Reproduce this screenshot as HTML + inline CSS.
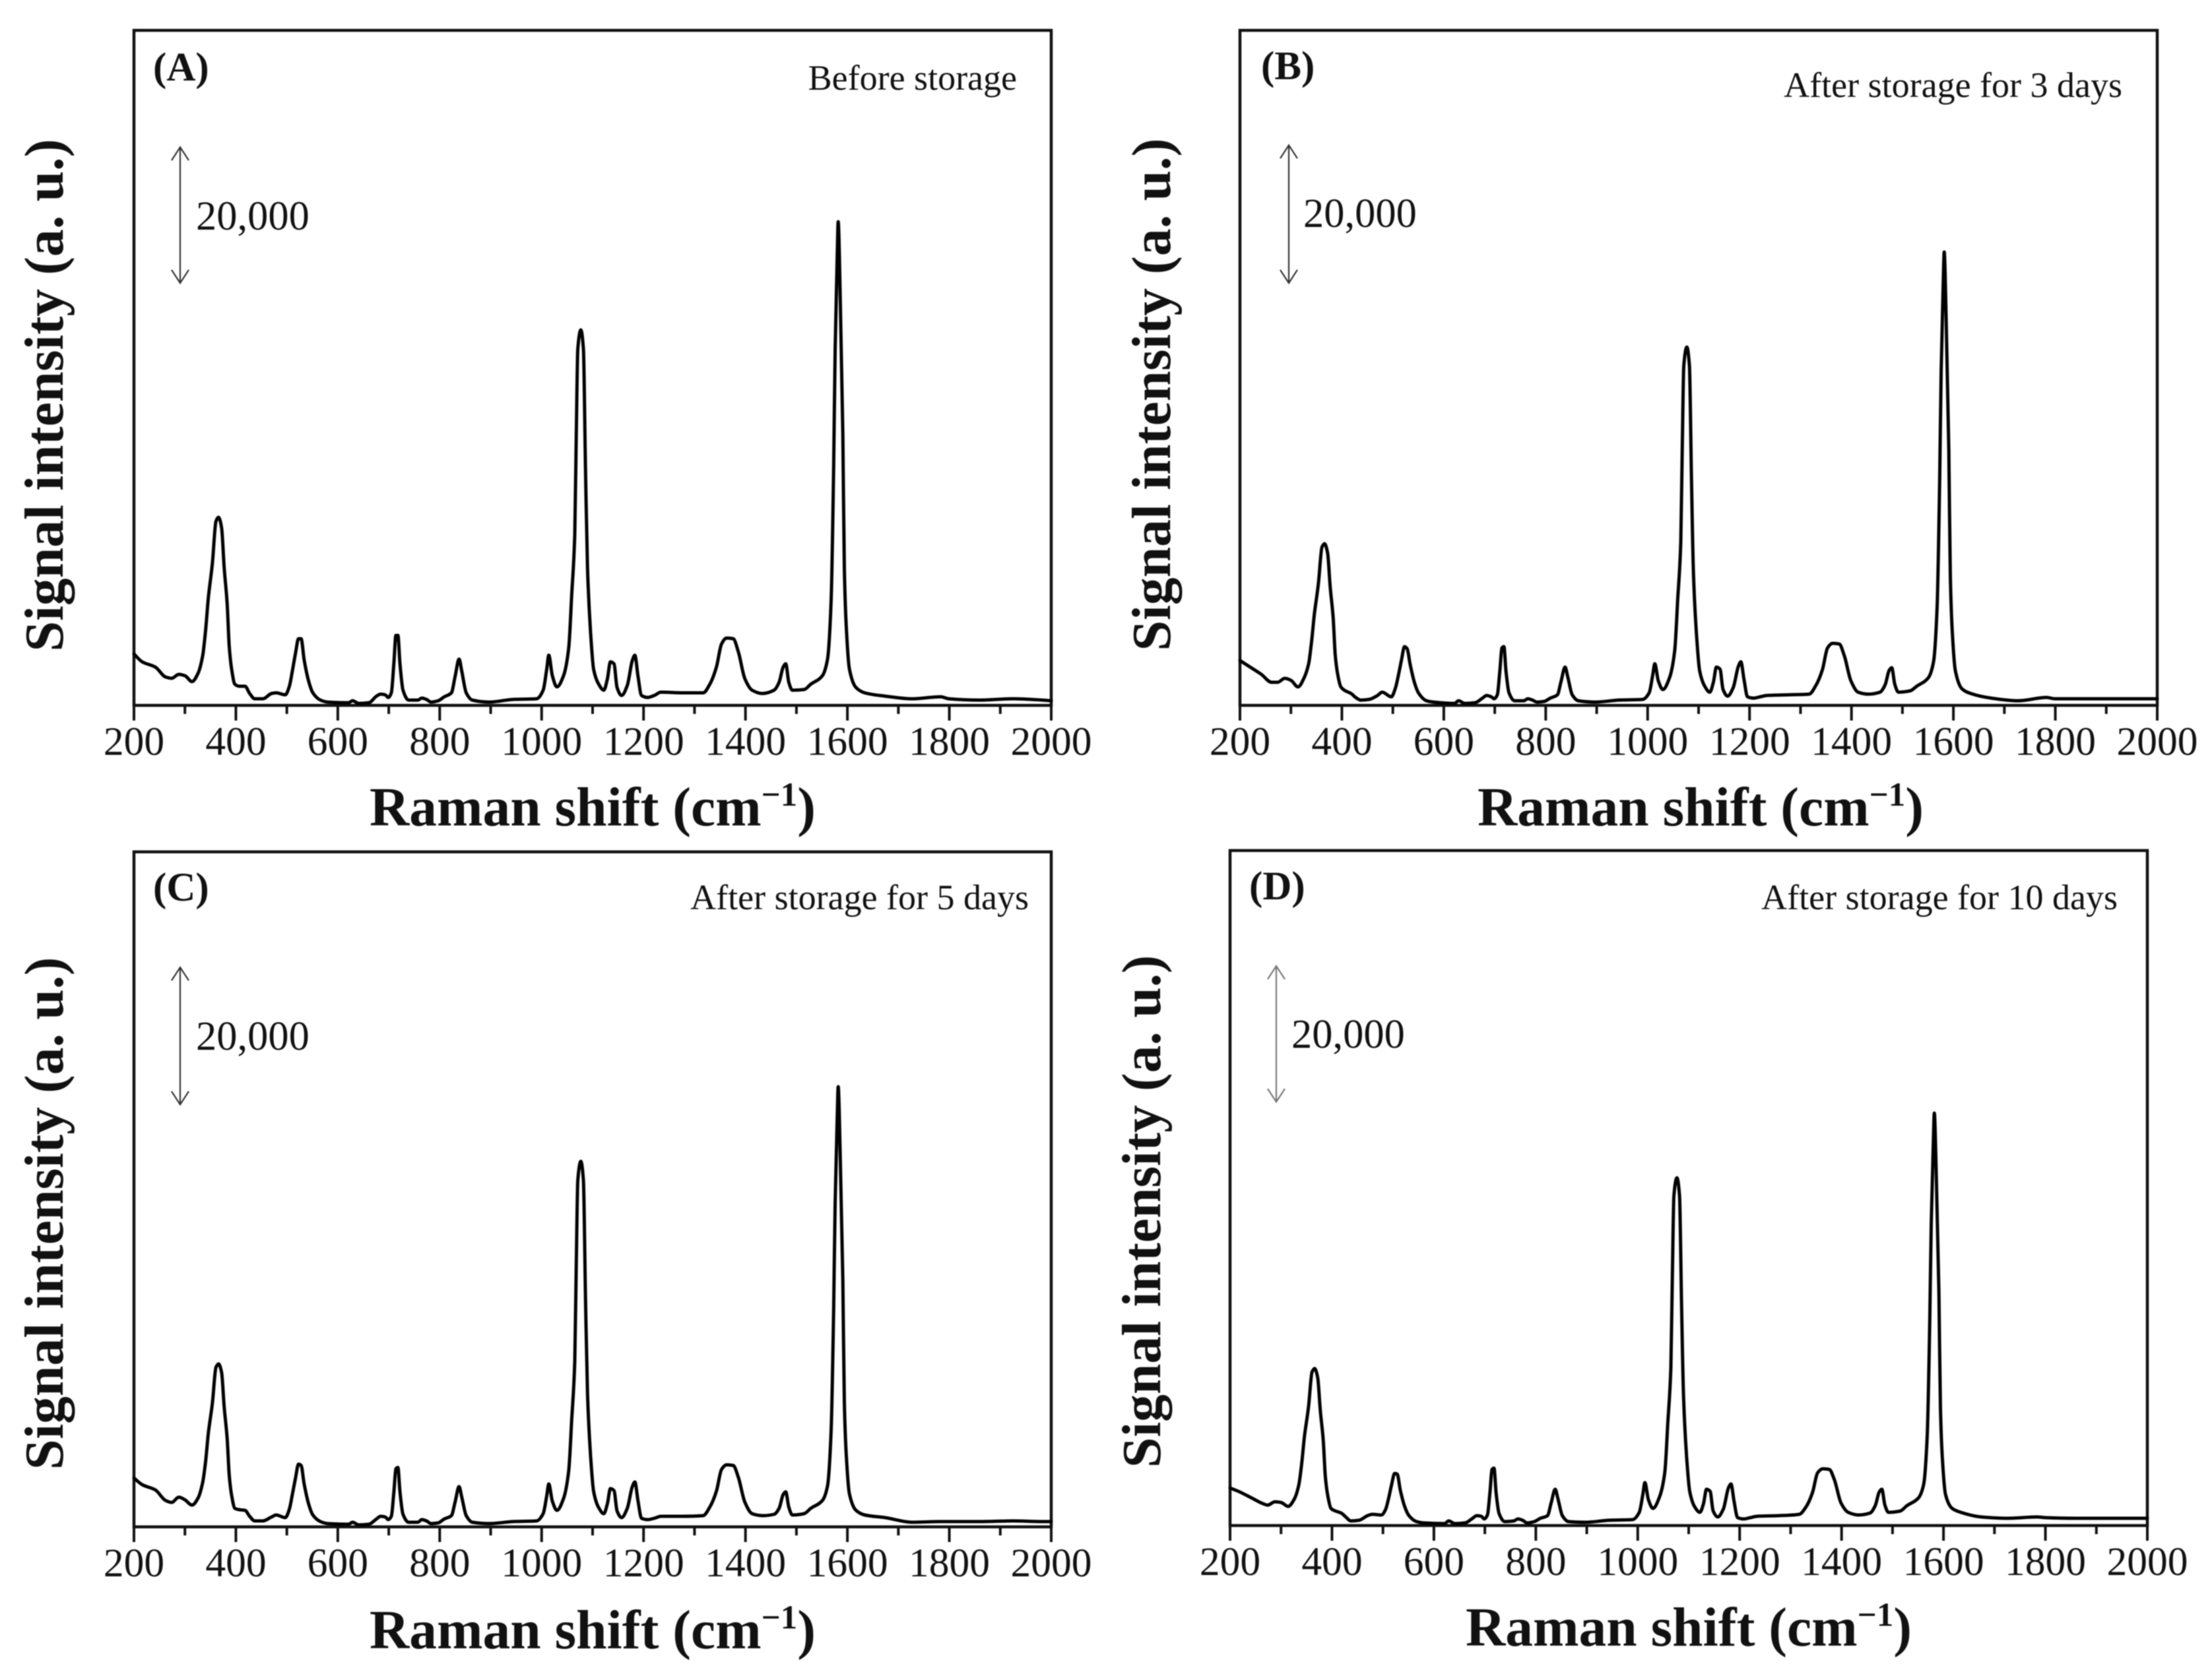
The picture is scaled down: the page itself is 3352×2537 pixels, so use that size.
<!DOCTYPE html>
<html lang="en">
<head>
<meta charset="utf-8">
<title>Raman spectra during storage</title>
<style>
html,body{margin:0;padding:0;background:#fff;}
svg{display:block;filter:blur(0.7px);}
text{font-family:"Liberation Serif","Times New Roman",serif;fill:#111;}
.axis-title{font-weight:bold;font-size:83.5px;}
.panel-letter{font-weight:bold;font-size:61px;}
.condition{font-size:54px;text-anchor:end;}
.scale-text{font-size:62.5px;}
.tick-label{font-size:61.5px;text-anchor:middle;}
.frame{fill:none;stroke:#111;stroke-width:4.5;}
.arrow{fill:none;stroke:#333;stroke-width:2.2;}
.curve{fill:none;stroke:#000;stroke-width:5;stroke-linejoin:round;stroke-linecap:round;}
.tick{stroke:#111;stroke-width:4;}
</style>
</head>
<body>
<svg id="figure" xmlns="http://www.w3.org/2000/svg" width="3352" height="2537" viewBox="0 0 3352 2537">
<rect x="0" y="0" width="3352" height="2537" fill="#fff"/>

<g id="panel-a" transform="translate(203,46)">
  <rect class="frame" x="0" y="0" width="1390" height="1023"/>
  <text class="axis-title" text-anchor="middle" transform="translate(-108,553) rotate(-90)">Signal intensity (a. u.)</text>
  <text class="axis-title" text-anchor="middle" x="695" y="1205">Raman shift (cm<tspan font-size="51" dy="-30">−1</tspan><tspan dy="30">)</tspan></text>
  <text class="panel-letter" x="29" y="76">(A)</text>
  <text class="condition" x="1338" y="90">Before storage</text>
  <text class="scale-text" x="94" y="302">20,000</text>
  <path class="arrow" d="M70 177V383M57 197L70 177L83 197M57 363L70 383L83 363"/>
</g>

<g id="panel-b" transform="translate(1879,46)">
  <rect class="frame" x="0" y="0" width="1390" height="1023"/>
  <text class="axis-title" text-anchor="middle" transform="translate(-106,552) rotate(-90)">Signal intensity (a. u.)</text>
  <text class="axis-title" text-anchor="middle" x="698" y="1205">Raman shift (cm<tspan font-size="51" dy="-30">−1</tspan><tspan dy="30">)</tspan></text>
  <text class="panel-letter" x="32" y="74">(B)</text>
  <text class="condition" x="1337" y="101">After storage for 3 days</text>
  <text class="scale-text" x="96" y="298">20,000</text>
  <path class="arrow" d="M74 174V383M61 194L74 174L87 194M61 363L74 383L87 363"/>
</g>

<g id="panel-c" transform="translate(203,1291)">
  <rect class="frame" x="0" y="0" width="1390" height="1023"/>
  <text class="axis-title" text-anchor="middle" transform="translate(-108,548) rotate(-90)">Signal intensity (a. u.)</text>
  <text class="axis-title" text-anchor="middle" x="695" y="1207">Raman shift (cm<tspan font-size="51" dy="-30">−1</tspan><tspan dy="30">)</tspan></text>
  <text class="panel-letter" x="29" y="74">(C)</text>
  <text class="condition" x="1356" y="87">After storage for 5 days</text>
  <text class="scale-text" x="94" y="300">20,000</text>
  <path class="arrow" d="M70 175V383M57 195L70 175L83 195M57 363L70 383L83 363"/>
</g>

<g id="panel-d" transform="translate(1864,1289)">
  <rect class="frame" x="0" y="0" width="1390" height="1023"/>
  <text class="axis-title" text-anchor="middle" transform="translate(-106,547) rotate(-90)">Signal intensity (a. u.)</text>
  <text class="axis-title" text-anchor="middle" x="695" y="1205">Raman shift (cm<tspan font-size="51" dy="-30">−1</tspan><tspan dy="30">)</tspan></text>
  <text class="panel-letter" x="29" y="74">(D)</text>
  <text class="condition" x="1345" y="89">After storage for 10 days</text>
  <text class="scale-text" x="93" y="299">20,000</text>
  <path class="arrow" style="stroke:#777" d="M70 175V381M57 195L70 175L83 195M57 361L70 381L83 361"/>
</g>
</svg>

<script>
const wavenumbers = [200,216,242,262,274,288,300,314,326,335,340,346,354,361,366,372,377,383,387,392,398,407,418,427,437,453,470,479,497,505,511,517,523,528,534,543,551,566,580,621,629,641,661,676,684,693,699,705,710,714,718,722,728,739,757,765,774,783,797,809,823,830,838,843,852,864,898,944,990,1003,1010,1014,1021,1030,1043,1053,1059,1065,1068,1071,1077,1082,1086,1090,1096,1102,1112,1122,1129,1135,1142,1148,1157,1168,1178,1183,1189,1196,1208,1221,1234,1277,1317,1330,1343,1353,1363,1376,1386,1399,1413,1433,1456,1466,1474,1479,1485,1492,1515,1528,1551,1561,1568,1573,1576,1580,1582,1586,1591,1594,1598,1604,1617,1634,1674,1727,1783,1799,1859,1925,1983,2000];

const intensityBefore = [7800,6600,5800,4300,4100,4700,4500,3600,4900,7600,10900,16300,21600,27900,28500,26900,20900,15300,8900,5300,3200,2900,2900,1800,1000,1000,1800,1900,1600,2900,5300,7900,10100,10100,6900,3600,1900,800,500,400,700,300,400,1400,1700,1600,1200,1900,6300,10600,10600,6300,2300,800,800,1100,900,500,700,1300,1900,4300,7000,5300,1900,800,500,900,1000,2300,5500,7600,4500,2800,4500,8600,16700,25900,41200,54000,56900,54000,36100,20800,11100,5500,3200,2300,4000,6600,6300,2700,1500,3000,6800,7600,4500,1500,1200,1500,2000,1900,1900,3200,5800,9300,10200,10100,8100,4000,2300,1800,2300,3500,5800,6300,3500,2300,2400,3200,4500,7000,15700,36100,54000,68200,73300,61600,41200,20800,11600,5500,2700,1900,1400,1000,1300,1000,800,1000,800,700];

const intensityDay3 = [6800,6000,4700,3500,3500,4100,3800,2800,4200,6400,9300,13800,18500,24000,24500,23100,18000,13200,7600,4600,2800,2200,1800,1200,800,900,1500,2000,1300,2600,4600,6900,8900,8600,6200,3300,1800,700,500,300,700,300,400,1100,1500,1300,1000,1600,5200,8700,8900,5200,1900,700,700,1000,800,500,600,1100,1600,3600,5800,4400,1600,700,500,800,900,1900,4600,6300,3700,2400,4200,8200,16000,24700,39300,51500,54300,51500,34400,19800,10600,5300,2900,2000,3500,5800,5500,2400,1400,2700,5900,6600,4000,1300,1100,1300,1500,1600,1700,3000,5400,8700,9400,9300,7500,3700,2000,1700,2000,3100,5300,5700,3200,2000,2200,2900,4200,6600,14800,34000,50700,64000,68700,57800,38600,19500,10900,5200,2500,1800,1100,700,1200,1000,1000,1000,1000,1000];

const intensityDay5 = [7400,6400,5600,4000,3700,4500,4100,3300,4400,6800,9500,14200,18800,24200,24700,23400,18200,13300,7800,4600,2800,2600,2500,1600,900,900,1500,1800,1400,2700,5000,7400,9500,9300,6500,3400,1800,800,500,400,700,300,400,1200,1600,1500,1100,1600,5200,8800,9000,5300,1900,700,700,1100,900,500,600,1200,1700,3700,6100,4600,1700,700,500,800,900,2000,4700,6500,3900,2500,4300,8400,16200,25100,40000,52500,55400,52500,35000,20200,10800,5400,2900,2000,3500,5800,5500,2400,1400,2800,6100,6800,4000,1300,1100,1300,1600,1600,1700,3000,5400,8700,9400,9300,7500,3700,2000,1700,1900,2800,4900,5300,3000,1800,2000,2800,4000,6200,14400,33000,49200,62100,66700,56000,37500,18900,10600,5000,2500,1800,1400,700,800,800,800,900,800,800];

const intensityDay10 = [5700,5200,4200,3400,3100,3600,3500,2900,4000,6200,9000,13500,18000,23300,23800,22400,17500,12800,7400,4400,2600,2200,1900,1300,700,800,1500,1700,1600,2400,4100,6200,7900,7800,5400,2800,1500,600,400,300,700,300,400,1100,1500,1400,1000,1600,5000,8500,8700,5000,1800,600,700,1000,800,400,600,1100,1500,3400,5500,4200,1500,600,500,800,900,2000,4700,6500,3900,2600,4400,8000,15500,24000,38100,50000,52700,50000,33400,19300,10300,5200,2800,2000,3300,5500,5200,2200,1300,2500,5700,6300,3700,1200,1000,1200,1400,1500,1700,2800,5000,8000,8600,8500,6900,3400,2000,1600,1900,3000,5100,5500,3100,2000,2200,3000,4200,6200,13500,31000,46000,58000,62500,52600,35200,17800,9900,4700,2600,2000,1300,1100,1300,1200,1100,1100,1100,1100];

const xTickLabels = ['200','400','600','800','1000','1200','1400','1600','1800','2000'];
const xTickValues = [200,400,600,800,1000,1200,1400,1600,1800,2000];
const xMinorValues = [300,500,700,900,1100,1300,1500,1700,1900];

const X_MIN = 200, X_MAX = 2000, Y_MAX = 102300;
const PLOT_W = 1390, PLOT_H = 1023;
const SVG_NS = 'http://www.w3.org/2000/svg';

function xScale(v){ return (v - X_MIN) / (X_MAX - X_MIN) * PLOT_W; }
function yScale(v){ return PLOT_H - v / Y_MAX * PLOT_H; }

/* Smooth monotone curve through the data points (no overshoot at peaks). */
function smoothPath(values){
  const xs = wavenumbers.map(xScale);
  const ys = values.map(yScale);
  const n = xs.length;
  const slopes = [];
  for (let i = 0; i < n - 1; i++) { slopes.push((ys[i + 1] - ys[i]) / (xs[i + 1] - xs[i])); }
  const tangents = [slopes[0]];
  for (let i = 1; i < n - 1; i++) {
    if (slopes[i - 1] * slopes[i] <= 0) {
      tangents.push(0);
    } else {
      const h0 = xs[i] - xs[i - 1];
      const h1 = xs[i + 1] - xs[i];
      const w0 = 2 * h1 + h0;
      const w1 = h1 + 2 * h0;
      tangents.push((w0 + w1) / (w0 / slopes[i - 1] + w1 / slopes[i]));
    }
  }
  tangents.push(slopes[n - 2]);
  let d = 'M' + xs[0].toFixed(1) + ' ' + ys[0].toFixed(1);
  for (let i = 0; i < n - 1; i++) {
    const h = (xs[i + 1] - xs[i]) / 3;
    d += 'C' + (xs[i] + h).toFixed(1) + ' ' + (ys[i] + tangents[i] * h).toFixed(1) + ' ' +
         (xs[i + 1] - h).toFixed(1) + ' ' + (ys[i + 1] - tangents[i + 1] * h).toFixed(1) + ' ' +
         xs[i + 1].toFixed(1) + ' ' + ys[i + 1].toFixed(1);
  }
  return d;
}

function drawPanel(id, values){
  const panel = document.getElementById(id);

  const curve = document.createElementNS(SVG_NS, 'path');
  curve.setAttribute('class', 'curve');
  
  
  curve.setAttribute('d', smoothPath(values));
  panel.appendChild(curve);

  xTickValues.forEach(function(t, i){
    const tick = document.createElementNS(SVG_NS, 'line');
    tick.setAttribute('class', 'tick');
    
    
    tick.setAttribute('x1', xScale(t));
    tick.setAttribute('x2', xScale(t));
    tick.setAttribute('y1', PLOT_H);
    tick.setAttribute('y2', PLOT_H + 23);
    panel.appendChild(tick);

    const label = document.createElementNS(SVG_NS, 'text');
    label.setAttribute('class', 'tick-label');
    
    
    label.setAttribute('x', xScale(t));
    label.setAttribute('y', PLOT_H + 75);
    label.textContent = xTickLabels[i];
    panel.appendChild(label);
  });

  xMinorValues.forEach(function(t){
    const tick = document.createElementNS(SVG_NS, 'line');
    tick.setAttribute('class', 'tick');
    
    
    tick.setAttribute('x1', xScale(t));
    tick.setAttribute('x2', xScale(t));
    tick.setAttribute('y1', PLOT_H);
    tick.setAttribute('y2', PLOT_H + 13);
    panel.appendChild(tick);
  });
}

drawPanel('panel-a', intensityBefore);
drawPanel('panel-b', intensityDay3);
drawPanel('panel-c', intensityDay5);
drawPanel('panel-d', intensityDay10);
</script>
</body>
</html>
